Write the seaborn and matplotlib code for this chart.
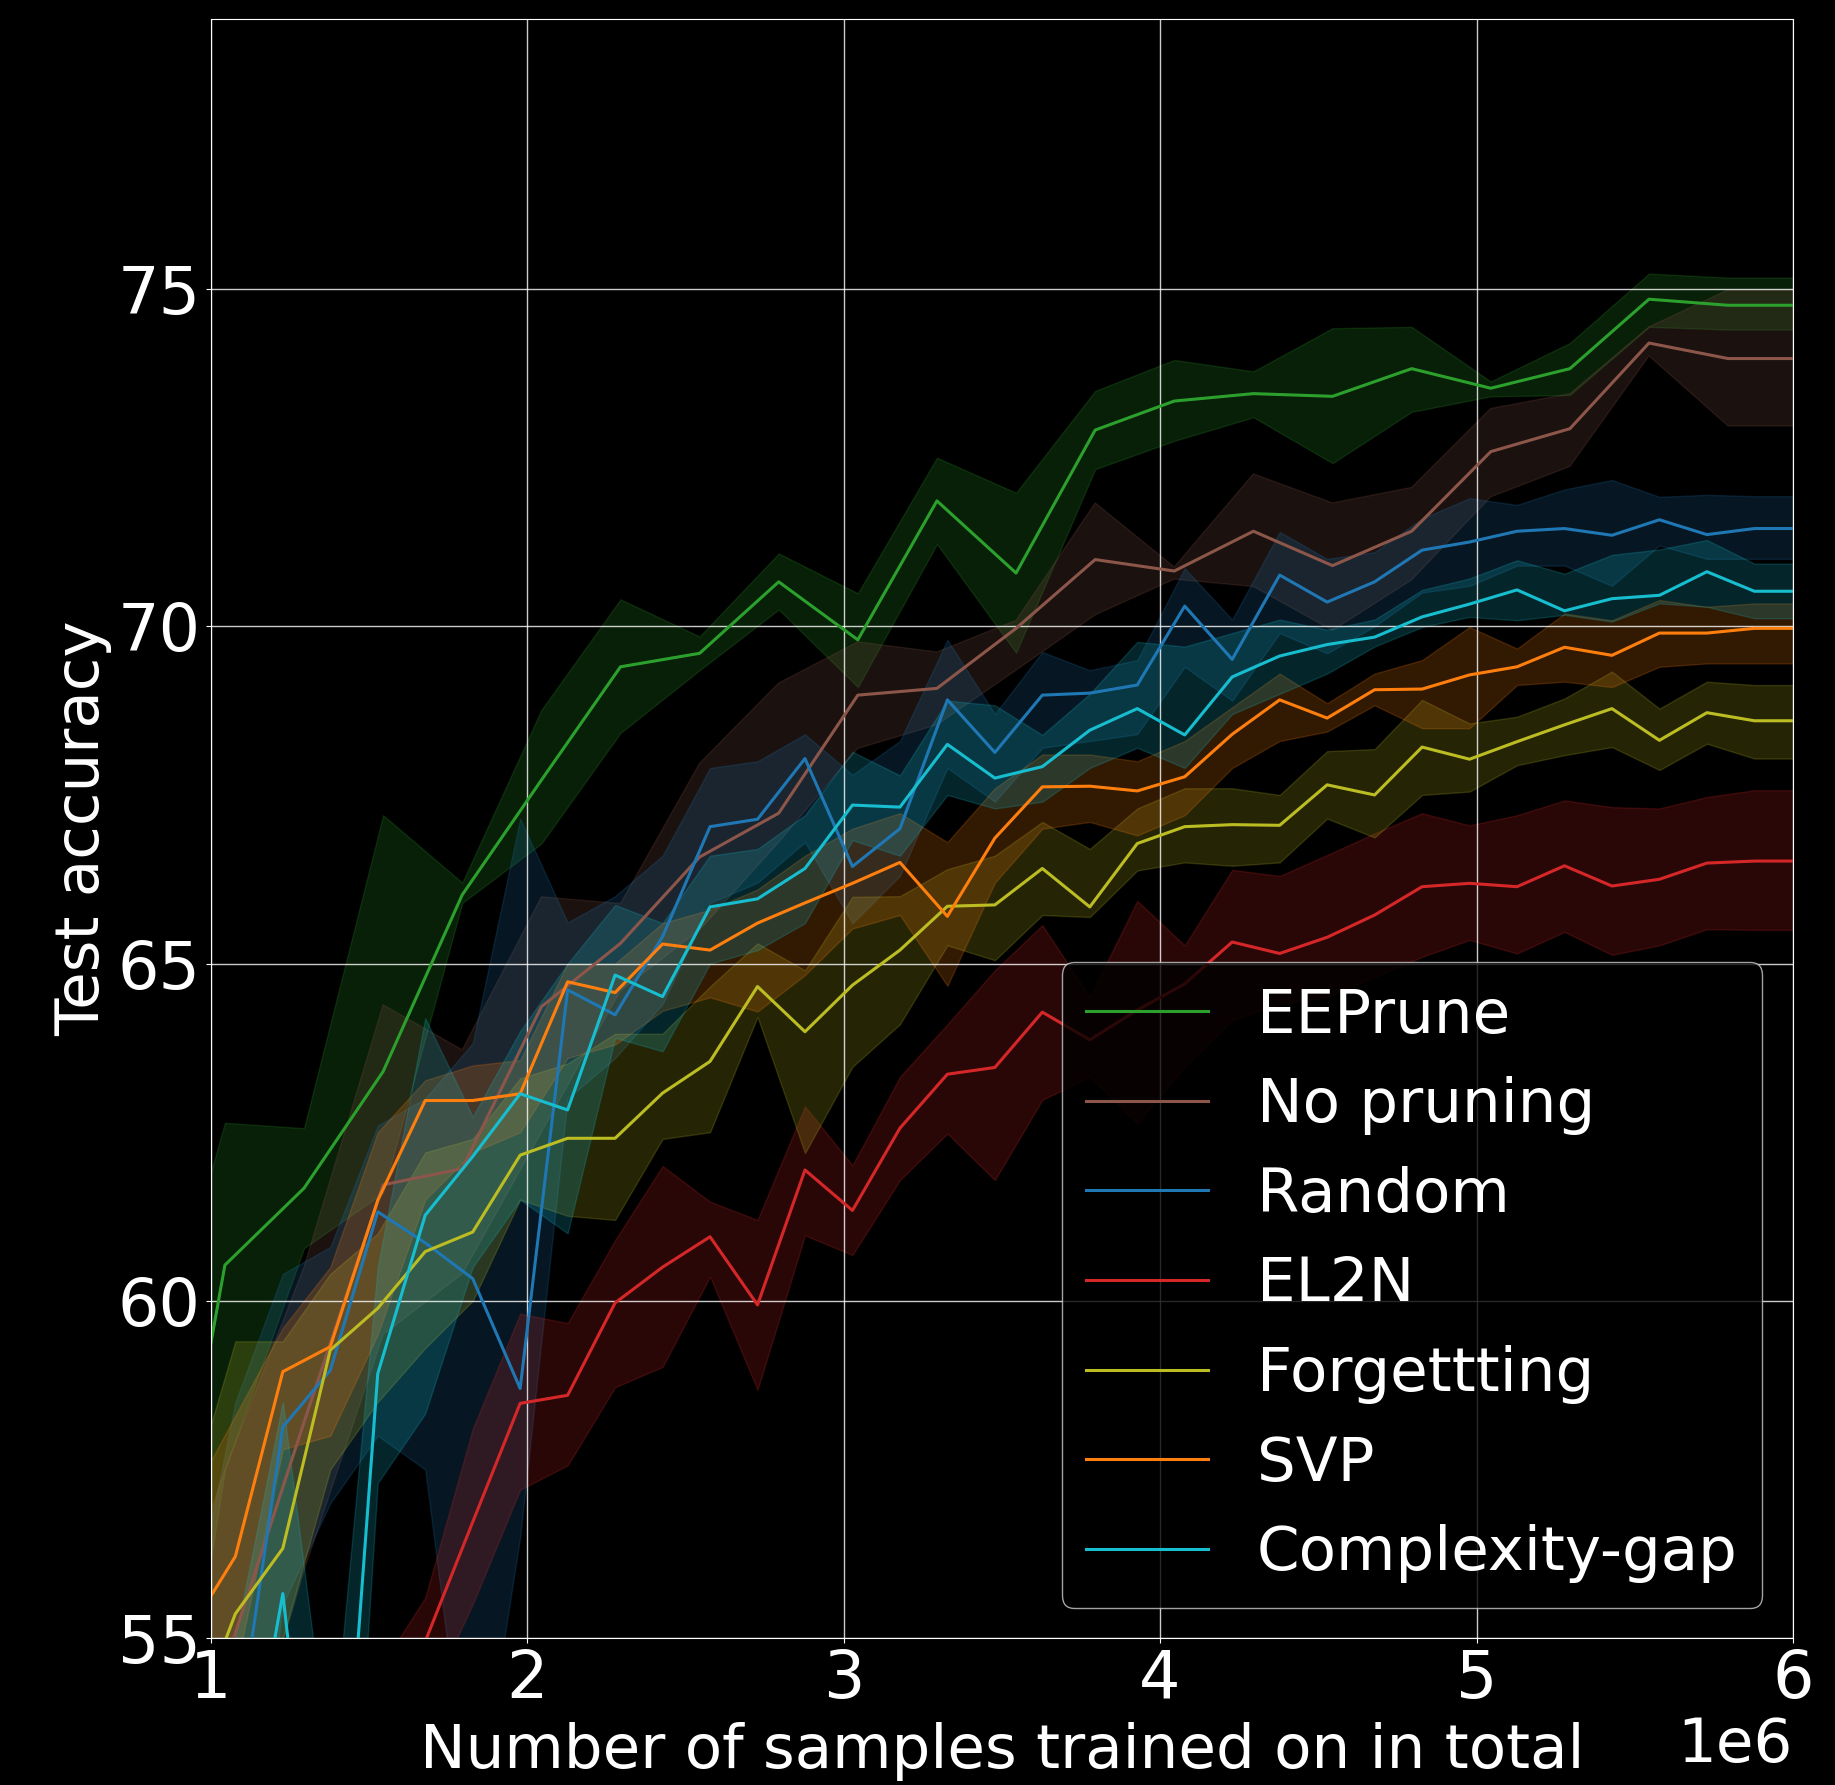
import numpy as np
import matplotlib
matplotlib.use("Agg")
import matplotlib.pyplot as plt
import seaborn as sns

# x positions (in millions of samples)
x_coarse = [0.795, 1.045, 1.295, 1.545, 1.795, 2.045, 2.295, 2.545, 2.795, 3.045, 3.295,
            3.545, 3.795, 4.045, 4.295, 4.545, 4.795, 5.045, 5.295, 5.545, 5.795, 6.045]
x_fine = [0.928, 1.078, 1.228, 1.378, 1.528, 1.678, 1.828, 1.978, 2.128, 2.278, 2.428, 2.578,
          2.728, 2.878, 3.028, 3.178, 3.328, 3.478, 3.628, 3.778, 3.928, 4.078, 4.228, 4.378,
          4.528, 4.678, 4.828, 4.978, 5.128, 5.278, 5.428, 5.578, 5.728, 5.878, 6.028]
x_el2n = x_fine[4:]

# EEPrune
eeprune_mean = [54.0, 60.53, 61.67, 63.40, 66.02, 67.72, 69.40, 69.60, 70.66, 69.80, 71.86,
                70.79, 72.91, 73.34, 73.45, 73.41, 73.82, 73.53, 73.82, 74.85, 74.76, 74.76]
eeprune_lo = [50.0, 57.5, 60.78, 61.6, 65.9, 66.78, 68.42, 69.35, 70.25, 69.10, 71.22,
              69.61, 72.33, 72.75, 73.10, 72.42, 73.18, 73.41, 73.43, 74.44, 74.40, 74.40]
eeprune_hi = [58.5, 62.64, 62.56, 67.2, 66.2, 68.76, 70.4, 69.85, 71.08, 70.49, 72.50,
              71.98, 73.49, 73.95, 73.78, 74.42, 74.44, 73.63, 74.20, 75.23, 75.17, 75.17]

# No pruning
nopr_mean = [50.5, 54.6, 58.2, 61.72, 61.96, 64.36, 65.30, 66.58, 67.23, 68.98, 69.08,
             69.97, 70.99, 70.82, 71.41, 70.90, 71.41, 72.59, 72.93, 74.20, 73.97, 73.97]
nopr_lo = [47.0, 52.0, 56.0, 59.5, 60.4, 62.5, 64.6, 65.5, 66.8, 68.19, 68.54,
           69.35, 70.17, 70.70, 70.59, 69.94, 70.69, 71.92, 72.37, 74.01, 72.97, 72.97]
nopr_hi = [54.0, 57.5, 60.5, 64.39, 63.72, 65.99, 65.89, 67.97, 69.16, 69.77, 69.62,
           70.09, 71.83, 70.88, 72.26, 71.83, 72.06, 73.23, 73.45, 74.44, 74.99, 74.99]

# Random
rand_mean = [50.0, 53.3, 58.13, 58.97, 61.32, 60.86, 60.33, 58.70, 64.61, 64.24, 65.40, 67.03,
             67.14, 68.04, 66.44, 67.00, 68.91, 68.13, 68.98, 69.01, 69.13, 70.30, 69.51, 70.76,
             70.36, 70.66, 71.13, 71.25, 71.41, 71.45, 71.35, 71.58, 71.36, 71.45, 71.45]
rand_lo = [46.0, 50.0, 55.5, 57.0, 58.0, 57.5, 52.0, 56.5, 63.0, 63.6, 64.4, 65.9,
           66.2, 66.8, 65.6, 66.3, 67.9, 67.4, 68.2, 68.3, 68.4, 69.4, 68.9, 69.9,
           69.6, 70.0, 70.5, 70.6, 70.9, 70.9, 70.6, 71.2, 71.0, 71.0, 71.0]
rand_hi = [55.0, 58.5, 60.4, 60.8, 62.6, 63.0, 63.82, 67.15, 65.61, 66.0, 66.6, 67.9,
           68.0, 68.4, 67.8, 68.3, 69.8, 68.7, 69.62, 69.35, 69.5, 70.86, 70.1, 71.4,
           71.0, 71.1, 71.6, 71.9, 71.8, 72.03, 72.17, 71.92, 71.95, 71.93, 71.93]

# EL2N
el2n_mean = [53.2, 54.95, 56.72, 58.48, 58.60, 59.97, 60.50, 60.95, 59.94, 61.94, 61.34,
             62.56, 63.36, 63.46, 64.28, 63.87, 64.31, 64.70, 65.32, 65.15, 65.39, 65.72,
             66.14, 66.19, 66.14, 66.45, 66.15, 66.25, 66.49, 66.52, 66.52]
el2n_lo = [51.5, 54.0, 55.5, 57.2, 57.56, 58.72, 59.02, 60.36, 58.68, 60.97, 60.68,
           61.79, 62.48, 61.79, 62.98, 63.32, 62.63, 63.47, 64.16, 64.4, 64.5, 64.8,
           65.1, 65.35, 65.15, 65.47, 65.13, 65.27, 65.51, 65.50, 65.50]
el2n_hi = [54.5, 55.6, 58.1, 59.81, 59.67, 60.9, 62.0, 61.47, 61.2, 62.88, 62.01,
           63.32, 64.1, 64.9, 65.57, 64.51, 65.93, 65.27, 66.39, 66.3, 66.61, 66.93,
           67.23, 67.05, 67.2, 67.42, 67.32, 67.3, 67.47, 67.57, 67.57]

# Forgettting
forg_mean = [53.5, 55.36, 56.33, 59.27, 59.89, 60.73, 61.02, 62.16, 62.41, 62.41, 63.08, 63.55,
             64.66, 63.99, 64.68, 65.20, 65.85, 65.87, 66.41, 65.84, 66.78, 67.03, 67.06, 67.05,
             67.65, 67.50, 68.21, 68.03, 68.29, 68.54, 68.78, 68.31, 68.72, 68.60, 68.60]
forg_lo = [50.5, 53.5, 55.0, 57.5, 58.5, 59.3, 60.0, 61.5, 61.26, 61.2, 62.4, 62.5,
           64.21, 62.19, 63.47, 64.1, 65.27, 65.05, 65.72, 65.69, 66.38, 66.5, 66.45, 66.5,
           67.15, 66.87, 67.5, 67.55, 67.94, 68.09, 68.21, 67.87, 68.26, 68.04, 68.04]
forg_hi = [57.0, 59.4, 59.4, 60.4, 61.0, 62.2, 62.4, 63.3, 63.52, 63.96, 63.96, 64.66,
           65.3, 64.9, 65.99, 66.0, 66.4, 66.6, 67.1, 66.7, 67.3, 67.6, 67.6, 67.5,
           68.15, 68.18, 68.91, 68.56, 68.66, 68.93, 69.33, 68.78, 69.18, 69.13, 69.13]

# SVP
svp_mean = [55.07, 56.21, 58.95, 59.32, 61.49, 62.97, 62.97, 63.07, 64.73, 64.57, 65.29, 65.20,
            65.60, 65.90, 66.19, 66.50, 65.70, 66.86, 67.62, 67.63, 67.56, 67.77, 68.40, 68.91,
            68.64, 69.06, 69.07, 69.28, 69.40, 69.69, 69.57, 69.90, 69.90, 69.97, 69.97]
svp_lo = [53.0, 54.5, 57.8, 58.0, 59.5, 61.5, 62.2, 62.5, 63.6, 63.8, 64.3, 64.5,
          64.29, 64.83, 65.52, 65.72, 64.67, 66.2, 67.0, 67.1, 66.9, 67.2, 67.9, 68.3,
          68.44, 68.83, 68.49, 68.49, 69.13, 69.18, 69.10, 69.40, 69.45, 69.45, 69.45]
svp_hi = [57.0, 58.3, 59.6, 60.5, 62.5, 63.27, 63.49, 63.57, 65.0, 65.0, 65.6, 65.8,
          66.1, 66.6, 67.0, 67.23, 66.8, 67.6, 68.1, 68.1, 68.0, 68.3, 68.8, 69.3,
          68.86, 69.3, 69.5, 69.99, 69.67, 70.19, 70.09, 70.39, 70.29, 70.34, 70.34]

# Complexity-gap
cg_mean = [50.0, 51.7, 55.66, 49.4, 58.92, 61.27, 62.14, 63.07, 62.83, 64.83, 64.51, 65.84,
           65.96, 66.41, 67.35, 67.32, 68.25, 67.75, 67.92, 68.46, 68.78, 68.39, 69.25, 69.56,
           69.73, 69.84, 70.14, 70.33, 70.54, 70.23, 70.41, 70.46, 70.81, 70.52, 70.52]
cg_lo = [46.0, 48.0, 52.5, 46.5, 57.3, 58.33, 60.5, 61.5, 61.0, 63.9, 63.7, 65.0,
         65.2, 65.6, 66.83, 66.6, 67.5, 67.3, 67.4, 67.9, 68.2, 67.9, 68.7, 69.0,
         69.3, 69.70, 69.99, 70.14, 70.09, 70.17, 70.07, 70.34, 70.29, 70.12, 70.12]
cg_hi = [53.0, 55.0, 58.5, 53.0, 60.5, 64.19, 62.73, 64.0, 65.0, 65.87, 65.6, 66.6,
         66.7, 67.2, 68.14, 67.79, 68.9, 68.83, 68.39, 69.0, 69.77, 69.70, 69.9, 70.1,
         69.95, 70.10, 70.54, 70.71, 70.98, 70.78, 71.06, 71.14, 71.28, 70.93, 70.93]

labels = ["EEPrune", "No pruning", "Random", "EL2N", "Forgettting", "SVP", "Complexity-gap"]
colors = ["#2ca02c", "#8c564b", "#1f77b4", "#d62728", "#bcbd22", "#ff7f0e", "#17becf"]

series = [
    (x_coarse, eeprune_mean, eeprune_lo, eeprune_hi),
    (x_coarse, nopr_mean, nopr_lo, nopr_hi),
    (x_fine, rand_mean, rand_lo, rand_hi),
    (x_el2n, el2n_mean, el2n_lo, el2n_hi),
    (x_fine, forg_mean, forg_lo, forg_hi),
    (x_fine, svp_mean, svp_lo, svp_hi),
    (x_fine, cg_mean, cg_lo, cg_hi),
]

plt.style.use("dark_background")
plt.rcParams["font.family"] = ["DejaVu Sans"]
plt.rcParams["font.size"] = 44

fig, ax = plt.subplots(figsize=(18.35, 17.85), dpi=100)
fig.subplots_adjust(left=0.1148, right=0.9771, top=0.9892, bottom=0.0823)

for (xs, m, lo, hi), lab, col in zip(series, labels, colors):
    xs = np.array(xs) * 1e6
    ax.fill_between(xs, lo, hi, color=col, alpha=0.2)
    sns.lineplot(x=xs, y=m, color=col, label=lab, linewidth=2.2, ax=ax)

ax.set_xlim(1e6, 6e6)
ax.set_ylim(55, 79)
ax.set_yticks([55, 60, 65, 70, 75])
ax.tick_params(labelsize=47)
ax.grid(True, color="white", linewidth=1.0, alpha=0.8)
ax.set_xlabel("Number of samples trained on in total", labelpad=7)
ax.set_ylabel("Test accuracy")
ax.legend(loc="lower right", fontsize=44)

fig.savefig("out.png", dpi=100)
